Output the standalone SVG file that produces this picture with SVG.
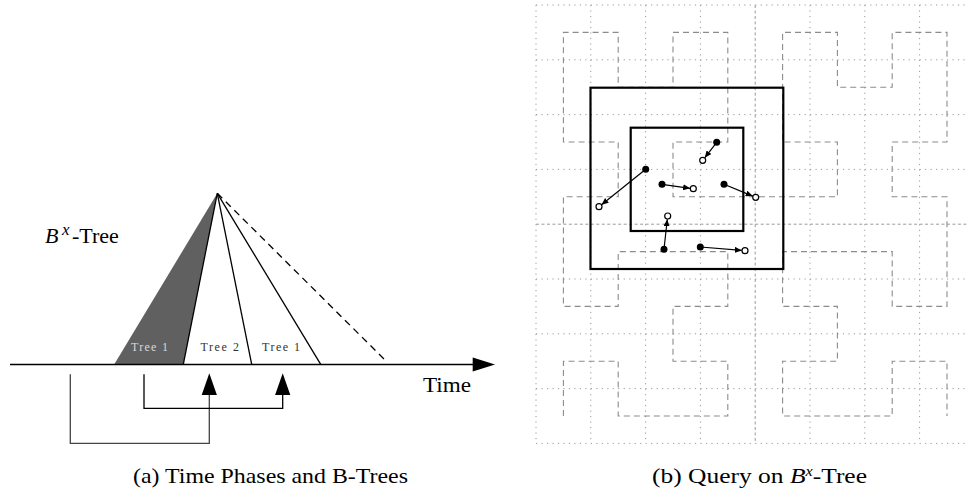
<svg xmlns="http://www.w3.org/2000/svg" width="968" height="491" viewBox="0 0 968 491">
  <style>
    .serif { font-family: "Liberation Serif", "DejaVu Serif", serif; fill: #000; }
    .tree { font-family: "Liberation Serif", "DejaVu Serif", serif; font-size: 12px; }
    .ln { stroke: #000; stroke-width: 1.3; fill: none; }
    .grid { stroke: #9a9a9a; stroke-width: 1; stroke-dasharray: 1.2 4.28; fill: none; }
    .grid-mid { stroke: #9a9a9a; stroke-width: 1; stroke-dasharray: 3 2.48; fill: none; }
    .curve { stroke: #8c8c8c; stroke-width: 1.1; stroke-dasharray: 6 4; fill: none; }
    .box { stroke: #000; stroke-width: 2.2; fill: none; }
    .move { stroke: #000; stroke-width: 1.2; fill: none; marker-end: url(#tip); }
    .now { fill: #000; }
    .later { fill: #fff; stroke: #000; stroke-width: 1.2; }
  </style>
  <defs>
    <marker id="tip" markerUnits="userSpaceOnUse" markerWidth="8" markerHeight="6" refX="7" refY="3" orient="auto">
      <path d="M0,0 L7,3 L0,6 z" fill="#000"/>
    </marker>
  </defs>

  <rect width="968" height="491" fill="#fff"/>

  <!-- ===== (a) time phases ===== -->
  <g id="trees">
    <polygon points="217.3,193.3 114.3,364.3 183.3,364.3" fill="#606060"/>
    <line class="ln" x1="217.3" y1="193.3" x2="183.3" y2="364.3"/>
    <line class="ln" x1="217.3" y1="193.3" x2="251.7" y2="364.3"/>
    <line class="ln" x1="217.3" y1="193.3" x2="320.7" y2="364.3"/>
    <line class="ln" x1="217.3" y1="193.3" x2="386.7" y2="361.7" stroke-dasharray="7 5"/>
    <text class="tree" x="131" y="351" fill="#d8d8d8" textLength="37" lengthAdjust="spacing">Tree 1</text>
    <text class="tree" x="200.5" y="351" fill="#333" textLength="38.5" lengthAdjust="spacing">Tree 2</text>
    <text class="tree" x="262" y="351" fill="#333" textLength="38" lengthAdjust="spacing">Tree 1</text>
  </g>

  <g id="bx-label">
    <text class="serif" font-size="22"><tspan x="45" y="243.3" font-style="italic">B</tspan><tspan x="62" y="235" font-size="17" font-style="italic">x</tspan><tspan x="72" y="243.3">-Tree</tspan></text>
  </g>

  <g id="time-axis">
    <line class="ln" x1="10" y1="364.5" x2="475" y2="364.5"/>
    <polygon points="472.7,357.5 495,364.5 472.7,371.5" fill="#000"/>
    <text class="serif" x="423" y="392" font-size="20" textLength="48" lengthAdjust="spacingAndGlyphs">Time</text>
  </g>

  <g id="phase-links">
    <path d="M70.3,374.3 V443.3 H209.3 V394" stroke="#444" stroke-width="1.3" fill="none"/>
    <polygon points="201.7,395 209.3,373.3 216.9,395" fill="#000"/>
    <path d="M144,374.3 V408.3 H282.7 V394" class="ln"/>
    <polygon points="275.1,395 282.7,373.3 290.3,395" fill="#000"/>
  </g>

  <!-- ===== (b) query on the space-filling grid ===== -->
  <g id="grid">
    <path class="grid" d="M536,5 V443.4 M590.8,5 V443.4 M645.6,5 V443.4 M700.4,5 V443.4 M810,5 V443.4 M864.8,5 V443.4 M919.6,5 V443.4"/>
    <path class="grid" d="M536,5 H968 M536,59.8 H968 M536,114.6 H968 M536,169.4 H968 M536,279 H968 M536,333.8 H968 M536,388.6 H968 M536,443.4 H968"/>
    <path class="grid-mid" d="M755.2,5 V443.4 M536,224.2 H968"/>
  </g>

  <g id="hilbert">
    <polyline class="curve" points="563.4,416 563.4,361.2 618.2,361.2 618.2,416 673,416 727.8,416 727.8,361.2 673,361.2 673,306.4 727.8,306.4 727.8,251.6 673,251.6 618.2,251.6 618.2,306.4 563.4,306.4 563.4,251.6 563.4,196.8 618.2,196.8 618.2,142 563.4,142 563.4,87.2 563.4,32.4 618.2,32.4 618.2,87.2 673,87.2 673,32.4 727.8,32.4 727.8,87.2 727.8,142 673,142 673,196.8 727.8,196.8 782.6,196.8 837.4,196.8 837.4,142 782.6,142 782.6,87.2 782.6,32.4 837.4,32.4 837.4,87.2 892.2,87.2 892.2,32.4 947,32.4 947,87.2 947,142 892.2,142 892.2,196.8 947,196.8 947,251.6 947,306.4 892.2,306.4 892.2,251.6 837.4,251.6 782.6,251.6 782.6,306.4 837.4,306.4 837.4,361.2 782.6,361.2 782.6,416 837.4,416 892.2,416 892.2,361.2 947,361.2 947,416"/>
  </g>

  <g id="query-outer">
    <rect class="box" x="590.5" y="87.7" width="192.8" height="181.3"/>
  </g>
  <g id="query-inner">
    <rect class="box" x="630.7" y="127.7" width="112.6" height="103.3"/>
  </g>

  <g id="movements">
    <line class="move" x1="716.7" y1="142.3" x2="704.7" y2="157.8"/>
    <line class="move" x1="645.7" y1="169.3" x2="601.5" y2="204.7"/>
    <line class="move" x1="662" y1="184.3" x2="690.1" y2="188.3"/>
    <line class="move" x1="724" y1="184.3" x2="752.7" y2="196.1"/>
    <line class="move" x1="664" y1="249.3" x2="667.3" y2="219.2"/>
    <line class="move" x1="700.3" y1="247" x2="741.8" y2="250.4"/>
  </g>

  <g id="objects">
    <circle class="now" cx="716.7" cy="142.3" r="3.5"/>
    <circle class="now" cx="645.7" cy="169.3" r="3.5"/>
    <circle class="now" cx="662" cy="184.3" r="3.5"/>
    <circle class="now" cx="724" cy="184.3" r="3.5"/>
    <circle class="now" cx="664" cy="249.3" r="3.5"/>
    <circle class="now" cx="700.3" cy="247" r="3.5"/>
    <circle class="later" cx="702.7" cy="160.3" r="3"/>
    <circle class="later" cx="599" cy="206.7" r="3"/>
    <circle class="later" cx="693.3" cy="188.7" r="3"/>
    <circle class="later" cx="755.7" cy="197.3" r="3"/>
    <circle class="later" cx="667.7" cy="216" r="3"/>
    <circle class="later" cx="745" cy="250.7" r="3"/>
  </g>

  <g id="captions">
    <text class="serif" x="133" y="482.5" font-size="22" textLength="275" lengthAdjust="spacingAndGlyphs">(a) Time Phases and B-Trees</text>
    <text class="serif" font-size="22" textLength="215" lengthAdjust="spacingAndGlyphs"><tspan x="652" y="482.5">(b) Query on </tspan><tspan font-style="italic">B</tspan><tspan dy="-7" font-size="14" font-style="italic">x</tspan><tspan dy="7">-Tree</tspan></text>
  </g>
</svg>
